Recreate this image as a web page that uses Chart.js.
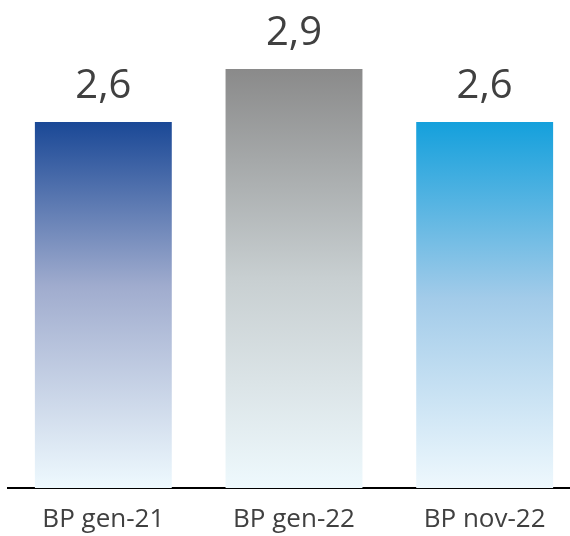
<!DOCTYPE html>
<html>
<head>
<meta charset="utf-8">
<script src="https://cdn.jsdelivr.net/npm/chart.js@4/dist/chart.umd.min.js"></script>
<style>
    html, body { margin: 0; padding: 0; background: #fff; overflow: hidden; }
    /* plot runs slightly past the right edge, as in the original */
    #wrap { width: 580px; height: 536px; position: relative; }
</style>
</head>
<body>
<div id="wrap"><canvas id="barChart"></canvas></div>
<script>
// --- Data ---
const categories = ['BP gen-21', 'BP gen-22', 'BP nov-22'];
const values = [2.6, 2.9, 2.6];

// --- Styles (gradient stops per bar: top, middle, bottom) ---
const barGradients = [
    [[0, '#1a4896'], [0.45, '#a0acce'], [1, '#eef9fe']],
    [[0, '#8a8a8a'], [0.5, '#c8cfd1'], [1, '#eef9fd']],
    [[0, '#14a0dc'], [0.48, '#a2cbe9'], [1, '#eef8fd']]
];
const textColor = '#404040';
const fontFamily = '"Open Sans", "Noto Sans", sans-serif';

function barFill(ctx) {
    const chart = ctx.chart;
    const area = chart.chartArea;
    const stops = barGradients[ctx.dataIndex];
    if (!area) return stops[0][1];
    const yTop = chart.scales.y.getPixelForValue(values[ctx.dataIndex]);
    const g = chart.ctx.createLinearGradient(0, yTop, 0, area.bottom);
    stops.forEach(s => g.addColorStop(s[0], s[1]));
    return g;
}

// value labels above the bars, decimal comma
const valueLabels = {
    id: 'valueLabels',
    afterDatasetsDraw(chart) {
        const c = chart.ctx;
        const meta = chart.getDatasetMeta(0);
        c.save();
        c.font = '40px ' + fontFamily;
        c.fillStyle = textColor;
        c.textAlign = 'center';
        c.textBaseline = 'alphabetic';
        meta.data.forEach((bar, i) => {
            c.fillText(values[i].toFixed(1).replace('.', ','), bar.x, bar.y - 24);
        });
        c.restore();
    }
};

new Chart(document.getElementById('barChart'), {
    type: 'bar',
    data: {
        labels: categories,
        datasets: [{
            data: values,
            backgroundColor: barFill,
            borderWidth: 0,
            categoryPercentage: 1,
            barPercentage: 0.718
        }]
    },
    options: {
        responsive: true,
        maintainAspectRatio: false,
        animation: false,
        layout: { padding: { left: 8, right: 0, top: 0, bottom: 0 } },
        plugins: { legend: { display: false }, tooltip: { enabled: false } },
        scales: {
            x: {
                grid: { display: false, drawTicks: false },
                border: { display: true, color: '#000', width: 2 },
                ticks: { color: textColor, font: { size: 26, family: fontFamily }, padding: 16 },
                afterFit(scale) { scale.height = 48; }
            },
            y: {
                display: false,
                min: 0.53,
                max: 3.29
            }
        }
    },
    plugins: [valueLabels]
});
</script>
</body>
</html>
